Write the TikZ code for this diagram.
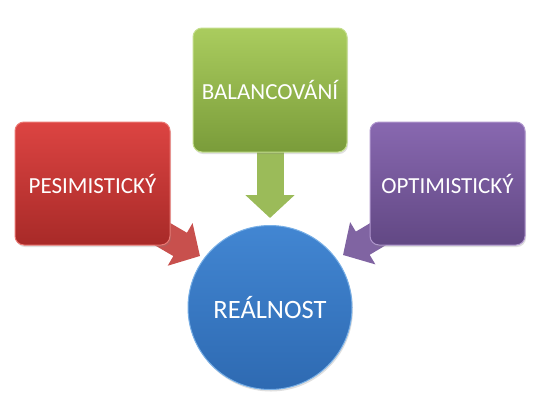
\documentclass[tikz,border=0pt]{standalone}
\usepackage{fontspec}
\setmainfont{Carlito}
\usetikzlibrary{arrows.meta,shadows}
\definecolor{redtop}{RGB}{220,68,66}
\definecolor{redbot}{RGB}{168,42,40}
\definecolor{redline}{RGB}{235,120,115}
\definecolor{greentop}{RGB}{170,204,94}
\definecolor{greenbot}{RGB}{122,156,58}
\definecolor{greenline}{RGB}{195,222,140}
\definecolor{purptop}{RGB}{136,104,176}
\definecolor{purpbot}{RGB}{98,72,132}
\definecolor{purpline}{RGB}{175,150,205}
\definecolor{bluetop}{RGB}{66,134,210}
\definecolor{bluebot}{RGB}{46,106,178}
\definecolor{blueline}{RGB}{120,175,230}
\definecolor{redarrow}{RGB}{200,80,77}
\definecolor{greenarrow}{RGB}{155,187,89}
\definecolor{purparrow}{RGB}{128,100,162}
\tikzset{
  box/.style={rectangle, rounded corners=9pt, minimum width=155pt, minimum height=123pt,
    line width=1pt, text=white, font=\fontsize{23}{27}\selectfont,
    drop shadow={opacity=0.25, shadow xshift=1pt, shadow yshift=-2pt}},
  blockarrow/.style={line width=27pt, -{Triangle[width=48pt,length=23pt]}},
}
\begin{document}
\begin{tikzpicture}[x=1pt,y=-1pt]
\useasboundingbox (0,0) rectangle (540,405);
% arrows (behind boxes)
\coordinate (redtail) at (140,221);
\coordinate (redtip) at (200,256);
\coordinate (purptail) at (400,221);
\coordinate (purptip) at (343,255);
\coordinate (greentip) at (270,218);
\coordinate (greentail) at (270,140);
\draw[blockarrow, redarrow] (redtail) -- (redtip);
\draw[blockarrow, purparrow] (purptail) -- (purptip);
\draw[blockarrow, greenarrow] (greentail) -- (greentip);
% boxes
\node[box, draw=redline, top color=redtop, bottom color=redbot] (pes) at (92.5,183.5) {PESIMISTICKÝ};
\node[box, draw=greenline, top color=greentop, bottom color=greenbot, minimum width=154pt, minimum height=124pt] (bal) at (270,90) {BALANCOVÁNÍ};
\node[box, draw=purpline, top color=purptop, bottom color=purpbot] (opt) at (447.5,183.5) {OPTIMISTICKÝ};
\node[circle, minimum size=164pt, draw=blueline, line width=1pt, top color=bluetop, bottom color=bluebot,
  text=white, font=\fontsize{26.5}{30}\selectfont,
  drop shadow={opacity=0.25, shadow xshift=1pt, shadow yshift=-2pt}] (real) at (270,307.5) {REÁLNOST};
\end{tikzpicture}
\end{document}
